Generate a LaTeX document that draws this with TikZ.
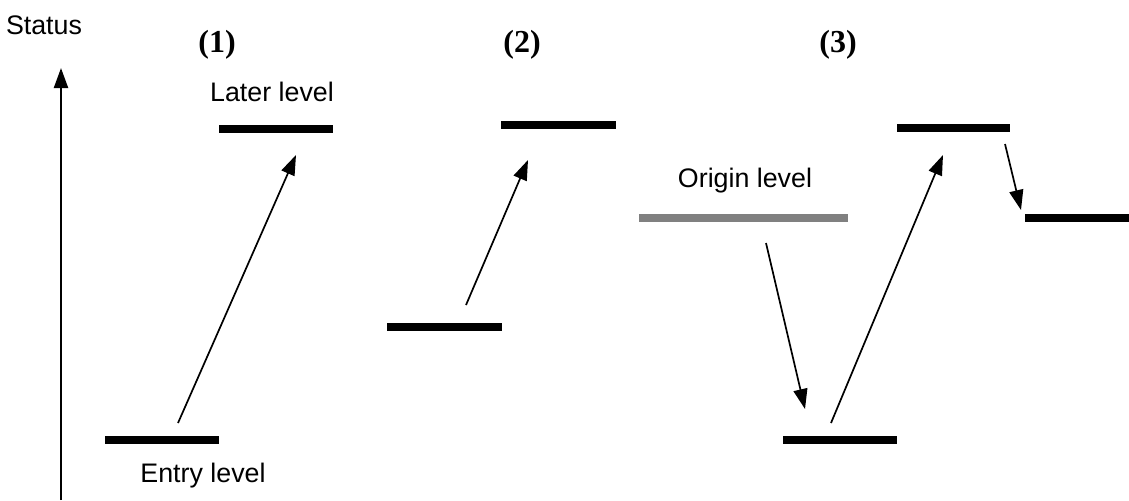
\documentclass[tikz,border=0pt]{standalone}
\usepackage{fontspec}
\setmainfont{Liberation Sans}
\newfontfamily\timesb{Liberation Serif}
\usetikzlibrary{arrows.meta}
\begin{document}
\begin{tikzpicture}[x=0.5pt,y=-0.5pt,
  lvl/.style={line width=4pt},
  graylvl/.style={line width=4pt,draw={rgb,255:red,128;green,128;blue,128}},
  conn/.style={line width=0.85pt,-{Triangle[length=10pt,width=7pt]}},
  axisline/.style={line width=1.1pt,-{Triangle[length=10pt,width=7pt]}},
  lab/.style={font=\fontsize{13.4pt}{15pt}\selectfont,inner sep=0pt,anchor=base},
  num/.style={font=\timesb\bfseries\fontsize{16pt}{18pt}\selectfont,inner sep=0pt,anchor=base}]
\useasboundingbox (0,0) rectangle (1129,500);
% axis
\coordinate (ax0) at (61,500);
\coordinate (ax1) at (61,68);
\draw[axisline] (ax0) -- (ax1);
\node[lab] (status) at (44,34) {Status};
% headings
\node[num] (h1) at (217,52) {(1)};
\node[num] (h2) at (522,52) {(2)};
\node[num] (h3) at (838,52) {(3)};
% levels
\draw[lvl] (105,440) coordinate (e1a) -- (219,440) coordinate (e1b);
\draw[lvl] (219,129) coordinate (l1a) -- (333,129) coordinate (l1b);
\draw[lvl] (501,125) coordinate (l2a) -- (616,125) coordinate (l2b);
\draw[lvl] (387,327) coordinate (e2a) -- (502,327) coordinate (e2b);
\draw[graylvl] (639,218) coordinate (oa) -- (848,218) coordinate (ob);
\draw[lvl] (897,128) coordinate (l3a) -- (1010,128) coordinate (l3b);
\draw[lvl] (783,440) coordinate (e3a) -- (897,440) coordinate (e3b);
\draw[lvl] (1025,218) coordinate (r3a) -- (1129,218) coordinate (r3b);
% labels
\node[lab] (later) at (272,101) {Later level};
\node[lab] (entry) at (203,482) {Entry level};
\node[lab] (origin) at (745,187) {Origin level};
% arrows
\coordinate (a1s) at (178,423);
\coordinate (a1e) at (296,155);
\draw[conn] (a1s) -- (a1e);
\coordinate (a2s) at (466,305);
\coordinate (a2e) at (528,160);
\draw[conn] (a2s) -- (a2e);
\coordinate (a3s) at (766,243);
\coordinate (a3e) at (805,409);
\draw[conn] (a3s) -- (a3e);
\coordinate (a4s) at (831,423);
\coordinate (a4e) at (943,155);
\draw[conn] (a4s) -- (a4e);
\coordinate (a5s) at (1005,144);
\coordinate (a5e) at (1021,210);
\draw[conn] (a5s) -- (a5e);
\end{tikzpicture}
\end{document}
